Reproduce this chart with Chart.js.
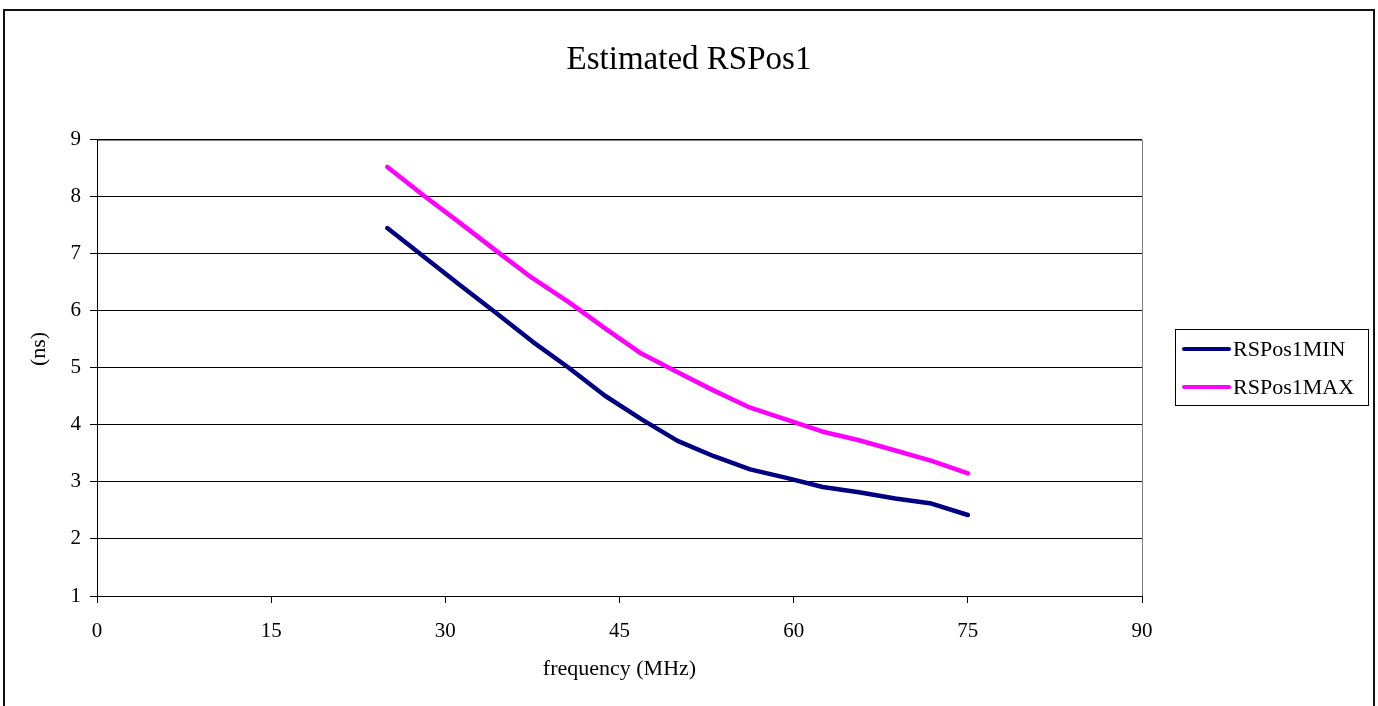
<!DOCTYPE html>
<html>
<head>
<meta charset="utf-8">
<title>Estimated RSPos1</title>
<script src="https://cdn.jsdelivr.net/npm/chart.js@4.4.1/dist/chart.umd.min.js"></script>
<style>
    html, body { margin: 0; padding: 0; background: #ffffff; }
    canvas { display: block; }
</style>
</head>
<body>
<canvas id="chart" width="1378" height="706"></canvas>
<script>
// frequency points (MHz) and the two estimated curves (ns)
const freqMHz = [25, 28.125, 31.25, 34.375, 37.5, 40.625, 43.75, 46.875, 50,
    53.125, 56.25, 59.375, 62.5, 65.625, 68.75, 71.875, 75];

const rsPosMin = [7.45, 6.95, 6.45, 5.96, 5.46, 5.0, 4.51, 4.10, 3.72,
    3.45, 3.22, 3.07, 2.91, 2.82, 2.71, 2.62, 2.42];

const rsPosMax = [8.52, 8.02, 7.54, 7.05, 6.57, 6.15, 5.69, 5.25, 4.92,
    4.60, 4.30, 4.09, 3.88, 3.73, 3.55, 3.37, 3.15];

const seriesNames = ["RSPos1MIN", "RSPos1MAX"];
const seriesColors = ["#000080", "#ff00ff"];

const serif = "'Liberation Serif', 'Times New Roman', serif";

// outer frame, plot border, y title and the boxed legend on the right
const excelFrame = {
    id: "excelFrame",

    beforeDraw(chart) {
        const ctx = chart.ctx;
        const a = chart.chartArea;
        ctx.save();
        ctx.strokeStyle = "#111";
        ctx.lineWidth = 2;
        ctx.strokeRect(4, 10, 1370, 740);

        ctx.strokeStyle = "#808080";
        ctx.lineWidth = 1;
        ctx.strokeRect(
            Math.round(a.left) + 0.5,
            Math.round(a.top) + 0.5,
            Math.round(a.right - a.left),
            Math.round(a.bottom - a.top)
        );
        ctx.restore();
    },

    afterDraw(chart) {
        const ctx = chart.ctx;
        ctx.save();

        ctx.fillStyle = "#000";
        ctx.font = "22px " + serif;
        ctx.textAlign = "center";
        ctx.textBaseline = "middle";
        ctx.translate(39, 349);
        ctx.rotate(-Math.PI / 2);
        ctx.fillText("(ns)", 0, 0);
        ctx.setTransform(1, 0, 0, 1, 0, 0);

        ctx.strokeStyle = "#000";
        ctx.lineWidth = 1;
        ctx.strokeRect(1175.5, 329.5, 193, 76);

        const rows = [349, 387];
        chart.data.datasets.forEach((ds, i) => {
            ctx.strokeStyle = ds.borderColor;
            ctx.lineWidth = 4;
            ctx.lineCap = "round";
            ctx.beginPath();
            ctx.moveTo(1184, rows[i]);
            ctx.lineTo(1229, rows[i]);
            ctx.stroke();

            ctx.fillStyle = "#000";
            ctx.font = "22px " + serif;
            ctx.textAlign = "left";
            ctx.textBaseline = "middle";
            ctx.fillText(ds.label, 1233, rows[i] + 1);
        });

        ctx.restore();
    }
};

new Chart(document.getElementById("chart"), {
    type: "line",

    data: {
        datasets: [
            {
                label: seriesNames[0],
                data: freqMHz.map((f, i) => ({ x: f, y: rsPosMin[i] })),
                borderColor: seriesColors[0],
                backgroundColor: seriesColors[0],
                borderWidth: 4.5,
                borderCapStyle: "round",
                borderJoinStyle: "round",
                pointRadius: 0,
                tension: 0
            },
            {
                label: seriesNames[1],
                data: freqMHz.map((f, i) => ({ x: f, y: rsPosMax[i] })),
                borderColor: seriesColors[1],
                backgroundColor: seriesColors[1],
                borderWidth: 4.5,
                borderCapStyle: "round",
                borderJoinStyle: "round",
                pointRadius: 0,
                tension: 0
            }
        ]
    },

    options: {
        responsive: false,
        animation: false,
        layout: {
            padding: 0
        },
        plugins: {
            legend: { display: false },
            tooltip: { enabled: false },
            title: {
                display: true,
                text: "Estimated RSPos1",
                color: "#000",
                font: { family: serif, size: 33, weight: "normal" },
                padding: { top: 41, bottom: 59 }
            }
        },
        scales: {
            x: {
                type: "linear",
                min: 0,
                max: 90,
                afterFit: s => { s.height = 110; },
                ticks: {
                    stepSize: 15,
                    color: "#000",
                    padding: 16,
                    maxRotation: 0,
                    font: { family: serif, size: 21 }
                },
                grid: {
                    drawOnChartArea: false,
                    drawTicks: true,
                    tickLength: 7,
                    tickColor: "#000",
                    color: "#000"
                },
                border: { color: "#000", width: 1 },
                title: {
                    display: true,
                    text: "frequency (MHz)",
                    color: "#000",
                    font: { family: serif, size: 22 },
                    padding: { top: 0, bottom: 24 }
                }
            },
            y: {
                min: 1,
                max: 9,
                afterFit: s => { s.width = 97; },
                ticks: {
                    stepSize: 1,
                    color: "#000",
                    padding: 9,
                    font: { family: serif, size: 21 }
                },
                grid: {
                    color: "#000",
                    lineWidth: 1,
                    drawTicks: true,
                    tickLength: 7,
                    tickColor: "#000"
                },
                border: { color: "#000", width: 1 }
            },
            // empty right-hand axis that reserves the legend column
            yRight: {
                position: "right",
                min: 1,
                max: 9,
                afterFit: s => { s.width = 236; },
                ticks: { display: false },
                grid: { display: false, drawTicks: false },
                border: { display: false }
            }
        }
    },

    plugins: [excelFrame]
});
</script>
</body>
</html>
